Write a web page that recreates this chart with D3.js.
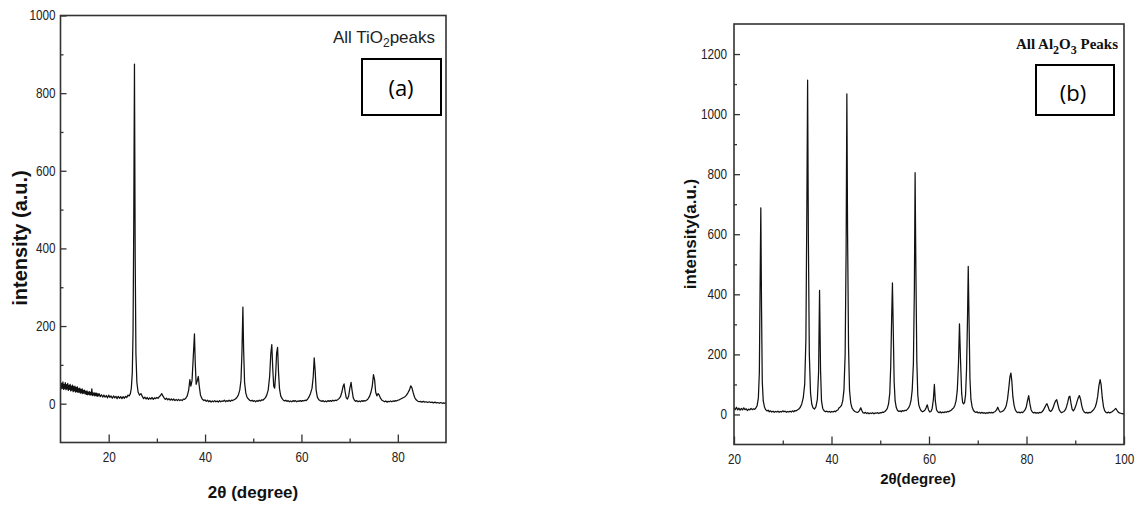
<!DOCTYPE html>
<html>
<head>
<meta charset="utf-8">
<script src="https://cdn.jsdelivr.net/npm/d3@7"></script>
<style>
  body { margin: 0; background: #fff; }
  .tick text { font-family: "Liberation Sans", Arial, sans-serif; font-size: 14px; fill: #222; }
</style>
</head>
<body>
<div id="svg-container"></div>
<script>
// data: [2theta, intensity]
const tio2Pattern = [
  [10,55],[10.125,38],[10.25,52],[10.375,40],[10.5,56],[10.625,37],[10.75,50],[10.875,39],[11,54],[11.125,36],
  [11.25,49],[11.375,38],[11.5,52],[11.625,34],[11.75,47],[11.875,37],[12,50],[12.125,33],[12.25,45],[12.375,35],
  [12.5,48],[12.625,31],[12.75,44],[12.875,33],[13,45],[13.125,30],[13.25,42],[13.375,31],[13.5,43],[13.625,29],
  [13.75,39],[13.875,30],[14,40],[14.125,27],[14.25,37],[14.375,28],[14.5,38],[14.625,26],[14.75,34],[14.875,27],
  [15,35],[15.125,25],[15.25,32],[15.375,24],[15.5,33],[15.625,23],[15.75,30],[15.875,24],[16,31],[16.125,22],
  [16.25,29],[16.375,23],[16.5,38],[16.625,21],[16.75,28],[16.875,22],[17,28],[17.125,20],[17.25,27],[17.375,21],
  [17.5,27],[17.625,19],[17.75,25],[17.875,20],[18,26],[18.25,18],[18.5,23],[18.75,17],[19,22],[19.25,17],
  [19.5,21],[19.75,15],[20,22],[20.25,16],[20.5,20],[20.75,14],[21,20],[21.25,15],[21.5,19],[21.75,13],
  [22,19],[22.25,14],[22.5,18],[22.75,13],[23,18],[23.25,14],[23.5,19],[23.75,16],[24,22],[24.25,20],
  [24.5,26],[24.7,40],[24.9,80],[25.05,180],[25.2,460],[25.35,875],[25.5,380],[25.65,130],[25.85,55],[26.1,30],
  [26.4,22],[26.7,26],[27,18],[27.25,13],[27.5,17],[27.75,12],[28,16],[28.25,11],[28.5,15],[28.75,12],
  [29,16],[29.25,11],[29.5,15],[29.75,13],[30,16],[30.25,14],[30.5,18],[30.75,21],[31,26],[31.25,20],
  [31.5,15],[31.75,11],[32,14],[32.25,10],[32.5,13],[32.75,9],[33,12],[33.25,9],[33.5,12],[33.75,8],
  [34,11],[34.25,8],[34.5,11],[34.75,8],[35,10],[35.25,8],[35.5,12],[35.75,11],[36,14],[36.3,20],
  [36.6,35],[36.85,62],[37.05,45],[37.3,60],[37.55,120],[37.8,180],[37.95,110],[38.15,50],[38.4,60],[38.6,70],
  [38.8,45],[39.05,22],[39.4,12],[39.75,8],[40,10],[40.25,6],[40.5,9],[40.75,5],[41,8],[41.25,4],
  [41.5,7],[41.75,5],[42,8],[42.25,5],[42.5,7],[42.75,4],[43,8],[43.25,5],[43.5,7],[43.75,6],
  [44,9],[44.25,5],[44.5,8],[44.75,6],[45,9],[45.25,6],[45.5,9],[45.75,8],[46,10],[46.3,12],
  [46.6,16],[46.9,22],[47.2,35],[47.45,60],[47.65,130],[47.85,249],[48,140],[48.2,55],[48.45,28],[48.7,17],
  [49,12],[49.25,9],[49.5,7],[49.75,9],[50,6],[50.25,8],[50.5,5],[50.75,8],[51,6],[51.25,9],
  [51.5,7],[51.75,10],[52,9],[52.25,12],[52.5,15],[52.8,22],[53.1,35],[53.4,70],[53.65,130],[53.85,152],
  [54.05,90],[54.25,45],[54.45,40],[54.65,75],[54.85,130],[55.05,145],[55.25,80],[55.45,38],[55.7,20],[56,13],
  [56.25,9],[56.5,7],[56.75,9],[57,6],[57.25,8],[57.5,5],[57.75,7],[58,5],[58.25,8],[58.5,6],
  [58.75,8],[59,5],[59.25,7],[59.5,6],[59.75,8],[60,6],[60.25,8],[60.5,7],[60.75,9],[61,8],
  [61.3,12],[61.6,18],[61.9,27],[62.2,40],[62.45,70],[62.65,118],[62.85,85],[63.05,35],[63.3,17],[63.6,10],
  [63.9,8],[64.25,6],[64.5,8],[64.75,5],[65,7],[65.25,5],[65.5,8],[65.75,6],[66,8],[66.25,6],
  [66.5,9],[66.75,7],[67,9],[67.25,8],[67.5,10],[67.8,13],[68.1,18],[68.4,30],[68.65,45],[68.85,51],
  [69.05,32],[69.3,15],[69.55,12],[69.8,20],[70.05,40],[70.3,55],[70.5,35],[70.75,15],[71,9],[71.25,6],
  [71.5,8],[71.75,5],[72,7],[72.25,5],[72.5,8],[72.75,6],[73,8],[73.25,7],[73.5,9],[73.8,12],
  [74.1,18],[74.4,28],[74.7,45],[74.95,75],[75.2,60],[75.4,30],[75.65,20],[75.9,26],[76.15,22],[76.4,14],
  [76.7,9],[77,7],[77.25,5],[77.5,7],[77.75,4],[78,6],[78.25,5],[78.5,7],[78.75,5],[79,7],
  [79.25,6],[79.5,8],[79.75,7],[80,9],[80.3,10],[80.6,12],[80.9,14],[81.2,16],[81.5,18],[81.8,22],
  [82.1,28],[82.4,35],[82.7,46],[82.95,40],[83.2,28],[83.5,16],[83.8,10],[84.1,7],[84.4,5],[84.7,6],
  [85,4],[85.3,6],[85.6,4],[85.9,5],[86.2,3],[86.5,5],[86.8,3],[87.1,4],[87.4,2],[87.7,4],
  [88,2],[88.3,3],[88.6,1],[88.9,3],[89.2,1],[89.5,2],[89.8,1],[90,2]
];

const al2o3Pattern = [
  [20,22],[20.25,16],[20.5,24],[20.75,15],[21,21],[21.25,14],[21.5,20],[21.75,15],[22,22],[22.25,16],
  [22.5,19],[22.75,13],[23,18],[23.25,15],[23.5,20],[23.75,16],[24,19],[24.25,17],[24.5,22],[24.75,30],
  [25,55],[25.2,140],[25.35,420],[25.5,688],[25.65,350],[25.8,110],[26,45],[26.25,25],[26.5,16],[26.75,12],
  [27,14],[27.25,9],[27.5,12],[27.75,8],[28,11],[28.25,7],[28.5,10],[28.75,8],[29,11],[29.25,7],
  [29.5,10],[29.75,8],[30,12],[30.25,9],[30.5,11],[30.75,7],[31,10],[31.25,8],[31.5,11],[31.75,8],
  [32,12],[32.25,9],[32.5,13],[32.75,12],[33,15],[33.3,18],[33.6,24],[33.9,35],[34.2,55],[34.5,100],
  [34.75,250],[34.95,700],[35.1,1113],[35.25,600],[35.45,200],[35.7,70],[35.95,35],[36.2,22],[36.5,18],[36.8,25],
  [37.1,50],[37.35,140],[37.55,413],[37.75,150],[37.95,45],[38.2,20],[38.5,12],[38.8,9],[39.05,11],[39.3,8],
  [39.55,10],[39.8,7],[40.05,10],[40.3,8],[40.55,11],[40.8,9],[41.05,13],[41.3,15],[41.55,22],[41.8,25],
  [42.05,30],[42.3,45],[42.55,80],[42.8,200],[43,550],[43.15,1067],[43.3,600],[43.5,220],[43.7,80],[43.95,38],
  [44.2,22],[44.5,14],[44.8,10],[45.1,8],[45.4,7],[45.7,12],[46,22],[46.2,14],[46.45,6],[46.7,4],
  [46.95,7],[47.2,3],[47.45,6],[47.7,2],[47.95,5],[48.2,3],[48.45,6],[48.7,2],[48.95,5],[49.2,4],
  [49.45,6],[49.7,3],[49.95,6],[50.2,5],[50.45,8],[50.7,7],[50.95,10],[51.2,14],[51.45,20],[51.7,35],
  [51.95,70],[52.15,160],[52.35,330],[52.5,438],[52.65,300],[52.85,110],[53.05,45],[53.3,22],[53.55,13],[53.8,10],
  [54.05,12],[54.3,9],[54.55,13],[54.8,11],[55.05,14],[55.3,13],[55.55,17],[55.8,22],[56.05,30],[56.3,45],
  [56.55,80],[56.8,170],[57,420],[57.15,805],[57.3,500],[57.5,180],[57.7,65],[57.9,32],[58.15,20],[58.4,12],
  [58.65,9],[58.9,11],[59.15,14],[59.4,22],[59.65,32],[59.9,15],[60.15,8],[60.4,10],[60.65,20],[60.9,50],
  [61.1,100],[61.3,45],[61.55,15],[61.8,9],[62.05,6],[62.3,9],[62.55,5],[62.8,8],[63.05,6],[63.3,9],
  [63.55,7],[63.8,10],[64.05,9],[64.3,12],[64.55,14],[64.8,18],[65.05,22],[65.3,30],[65.55,45],[65.8,80],
  [66.05,170],[66.25,302],[66.45,190],[66.7,70],[66.9,40],[67.1,35],[67.3,40],[67.5,65],[67.7,150],[67.9,320],
  [68.05,493],[68.2,330],[68.4,120],[68.6,50],[68.85,25],[69.1,14],[69.35,9],[69.6,7],[69.85,9],[70.1,5],
  [70.35,7],[70.6,4],[70.85,7],[71.1,4],[71.35,6],[71.6,3],[71.85,6],[72.1,4],[72.35,7],[72.6,5],
  [72.85,7],[73.1,5],[73.35,8],[73.6,10],[73.85,15],[74.1,24],[74.35,14],[74.6,8],[74.85,9],[75.1,11],
  [75.35,14],[75.6,20],[75.85,30],[76.1,50],[76.35,85],[76.6,125],[76.8,138],[77,110],[77.2,60],[77.45,30],
  [77.7,15],[77.95,9],[78.2,6],[78.45,8],[78.7,5],[78.95,8],[79.2,6],[79.45,10],[79.7,15],[79.95,25],
  [80.2,45],[80.45,63],[80.7,35],[80.95,15],[81.2,8],[81.45,5],[81.7,7],[81.95,4],[82.2,6],[82.45,4],
  [82.7,7],[82.95,6],[83.2,9],[83.45,14],[83.7,22],[83.95,30],[84.2,36],[84.45,25],[84.7,13],[84.95,10],
  [85.2,14],[85.45,22],[85.7,35],[85.95,45],[86.2,49],[86.45,32],[86.7,16],[86.95,9],[87.2,6],[87.45,8],
  [87.7,10],[87.95,15],[88.2,25],[88.45,40],[88.7,58],[88.9,61],[89.1,40],[89.35,18],[89.6,12],[89.85,18],
  [90.1,28],[90.35,42],[90.6,55],[90.85,63],[91.1,50],[91.35,28],[91.6,14],[91.85,8],[92.1,5],[92.35,7],
  [92.6,4],[92.85,7],[93.1,6],[93.35,9],[93.6,13],[93.85,18],[94.1,25],[94.35,38],[94.6,60],[94.85,95],
  [95.1,116],[95.3,100],[95.55,55],[95.8,25],[96.05,12],[96.3,7],[96.55,5],[96.8,8],[97.05,5],[97.3,7],
  [97.55,9],[97.8,12],[98.05,16],[98.3,20],[98.55,14],[98.8,8],[99.05,5],[99.3,4],[99.55,3],[99.8,2],[100,3]
];

// axis ticks
const tio2XTicks = [20, 40, 60, 80];
const tio2XMinor = [30, 50, 70];
const tio2YTicks = [0, 200, 400, 600, 800, 1000];
const tio2YMinor = [100, 300, 500, 700, 900];
const al2o3XTicks = [20, 40, 60, 80, 100];
const al2o3XMinor = [30, 50, 70, 90];
const al2o3YTicks = [0, 200, 400, 600, 800, 1000, 1200];
const al2o3YMinor = [100, 300, 500, 700, 900, 1100];

const narrow = 0.84; // tick labels in the picture are condensed

const svg = d3.select("#svg-container")
  .append("svg")
    .attr("width", 1135)
    .attr("height", 505);

function drawPanel(p) {
  const xScale = d3.scaleLinear().domain(p.xDomain).range([p.left, p.right]);
  const yScale = d3.scaleLinear().domain(p.yDomain).range([p.bottom, p.top]);

  const g = svg.append("g");

  // clip
  g.append("clipPath").attr("id", p.id + "-clip")
    .append("rect")
      .attr("x", p.left).attr("y", p.top)
      .attr("width", p.right - p.left).attr("height", p.bottom - p.top);

  // ticks (inward)
  g.append("g")
      .attr("transform", `translate(0, ${p.bottom})`)
      .call(d3.axisBottom(xScale).tickValues(p.xTicks).tickSize(-8).tickPadding(p.xPad).tickFormat(d3.format("d")))
      .call(a => a.select(".domain").remove())
      .call(a => a.selectAll(".tick text").attr("transform", `scale(${narrow},1)`));
  g.append("g")
      .attr("transform", `translate(0, ${p.bottom})`)
      .call(d3.axisBottom(xScale).tickValues(p.xMinor).tickSize(-4).tickFormat(""))
      .call(a => a.select(".domain").remove());
  g.append("g")
      .attr("transform", `translate(${p.left}, 0)`)
      .call(d3.axisLeft(yScale).tickValues(p.yTicks).tickSize(-6).tickFormat(d3.format("d")))
      .call(a => a.select(".domain").remove())
      .call(a => a.selectAll(".tick text")
          .attr("x", -p.yPad / narrow)
          .attr("transform", `scale(${narrow},1)`));
  g.append("g")
      .attr("transform", `translate(${p.left}, 0)`)
      .call(d3.axisLeft(yScale).tickValues(p.yMinor).tickSize(-3).tickFormat(""))
      .call(a => a.select(".domain").remove());
  g.selectAll(".tick line").attr("stroke", "#333").attr("stroke-width", 1.3);

  // pattern
  const line = d3.line()
    .x(d => xScale(d[0]))
    .y(d => yScale(d[1]));
  g.append("path")
      .datum(p.data)
      .attr("clip-path", `url(#${p.id}-clip)`)
      .attr("fill", "none")
      .attr("stroke", "#111")
      .attr("stroke-width", 1.25)
      .attr("stroke-linejoin", "round")
      .attr("d", line);

  // frame
  g.append("rect")
      .attr("x", p.left).attr("y", p.top)
      .attr("width", p.right - p.left).attr("height", p.bottom - p.top)
      .attr("fill", "none")
      .attr("stroke", "#333")
      .attr("stroke-width", 1.6);

  // axis titles
  g.append("text")
      .attr("x", p.xLabel.x).attr("y", p.xLabel.y)
      .attr("text-anchor", "middle")
      .style("font-family", "'Liberation Sans', Arial, sans-serif")
      .style("font-weight", "bold")
      .style("font-size", p.xLabel.size + "px")
      .attr("fill", "#111")
      .text(p.xLabel.text);
  g.append("text")
      .attr("transform", `translate(${p.yLabel.x}, ${p.yLabel.y}) rotate(-90)`)
      .attr("text-anchor", "middle")
      .style("font-family", "'Liberation Sans', Arial, sans-serif")
      .style("font-weight", "bold")
      .style("font-size", p.yLabel.size + "px")
      .attr("fill", "#111")
      .text(p.yLabel.text);

  return g;
}

const gA = drawPanel({
  id: "a", data: tio2Pattern,
  xDomain: [10, 90], yDomain: [-100, 1000],
  left: 60.5, right: 446, top: 15.5, bottom: 442.5,
  xTicks: tio2XTicks, xMinor: tio2XMinor, yTicks: tio2YTicks, yMinor: tio2YMinor,
  xPad: 10, yPad: 5,
  xLabel: { text: "2θ (degree)", x: 253, y: 498, size: 17 },
  yLabel: { text: "intensity (a.u.)", x: 27, y: 238, size: 20 }
});

const gB = drawPanel({
  id: "b", data: al2o3Pattern,
  xDomain: [20, 100], yDomain: [-100, 1300],
  left: 734, right: 1124, top: 24, bottom: 444.5,
  xTicks: al2o3XTicks, xMinor: al2o3XMinor, yTicks: al2o3YTicks, yMinor: al2o3YMinor,
  xPad: 10, yPad: 7,
  xLabel: { text: "2θ(degree)", x: 918, y: 484, size: 15 },
  yLabel: { text: "intensity(a.u.)", x: 696, y: 234, size: 17 }
});

// panel (a) annotation
const tA = gA.append("text")
    .attr("x", 435).attr("y", 43)
    .attr("text-anchor", "end")
    .style("font-family", "'Liberation Sans', Arial, sans-serif")
    .style("font-size", "17px")
    .attr("fill", "#222");
tA.append("tspan").text("All TiO");
tA.append("tspan").attr("dy", 4).style("font-size", "12px").text("2");
tA.append("tspan").attr("dy", -4).text("peaks");

gA.append("rect")
    .attr("x", 362).attr("y", 59).attr("width", 79).attr("height", 56)
    .attr("fill", "#fff").attr("stroke", "#000").attr("stroke-width", 2);
gA.append("text")
    .attr("x", 401).attr("y", 96)
    .attr("text-anchor", "middle")
    .style("font-family", "'Open Sans', 'Noto Sans', sans-serif")
    .style("font-size", "22px")
    .text("(a)");

// panel (b) annotation
const tB = gB.append("text")
    .attr("x", 1118).attr("y", 49)
    .attr("text-anchor", "end")
    .style("font-family", "'Liberation Serif', 'Times New Roman', serif")
    .style("font-weight", "bold")
    .style("font-size", "15px")
    .attr("fill", "#111");
tB.append("tspan").text("All Al");
tB.append("tspan").attr("dy", 5).style("font-size", "12px").text("2");
tB.append("tspan").attr("dy", -5).text("O");
tB.append("tspan").attr("dy", 5).style("font-size", "12px").text("3");
tB.append("tspan").attr("dy", -5).text(" Peaks");

gB.append("rect")
    .attr("x", 1036).attr("y", 65).attr("width", 78).attr("height", 50)
    .attr("fill", "#fff").attr("stroke", "#000").attr("stroke-width", 2);
gB.append("text")
    .attr("x", 1073).attr("y", 101)
    .attr("text-anchor", "middle")
    .style("font-family", "'Open Sans', 'Noto Sans', sans-serif")
    .style("font-size", "22px")
    .text("(b)");
</script>
</body>
</html>
